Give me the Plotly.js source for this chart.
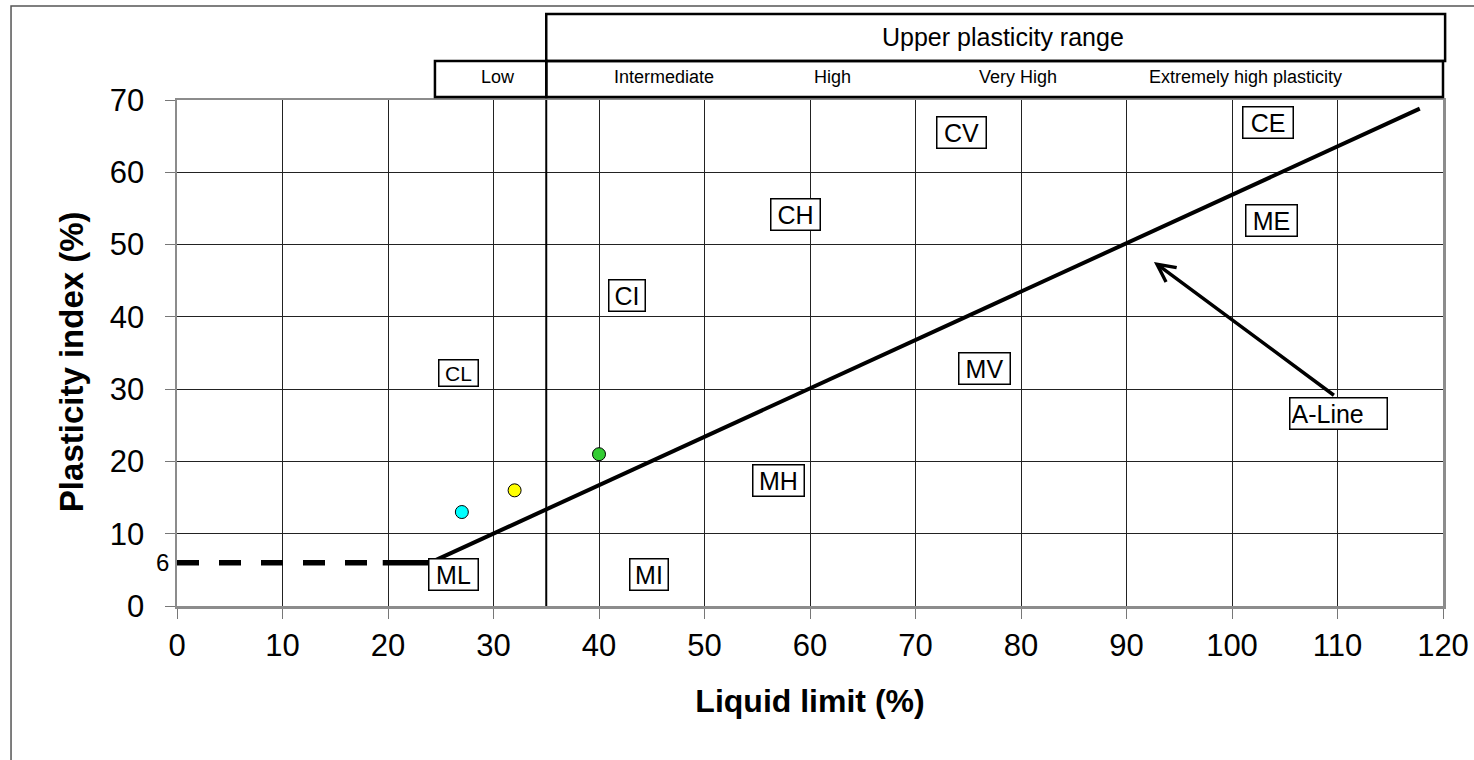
<!DOCTYPE html>
<html><head><meta charset="utf-8">
<script src="https://cdn.plot.ly/plotly-3.0.1.min.js"></script>
<style>html,body{margin:0;padding:0;background:#fff}#chart{width:1474px;height:760px}</style>
</head><body><div id="chart"></div>
<script>
// ---- data ----
const xTicks = [0,10,20,30,40,50,60,70,80,90,100,110,120];
const yTicks = [0,10,20,30,40,50,60,70];
const dashX = [0, 19.5];
const dashY = [6, 6];
const stubX = [19.5, 24];
const stubY = [6, 6];
const aLineX = [24, 117.8];
const aLineY = [6, 68.8];
const divideX = [35, 35];
const divideY = [0, 70];
const sampleLL = [27, 32, 40];
const samplePI = [13, 16, 21];
const sampleColors = ['#00FFFF', '#FFFF00', '#33CC33'];
const zoneText = ['CL','CI','CH','CV','CE','ML','MI','MH','MV','ME'];
const zoneX = [26.7, 42.7, 58.6, 74.4, 103.4, 26.2, 44.7, 57.0, 76.5, 103.7];
const zoneY = [32.3, 42.9, 54.1, 65.5, 66.9, 4.3, 4.3, 17.3, 32.8, 53.3];
const zoneW = [36, 33, 46, 46, 47, 46, 35, 48, 48, 48];
const zoneSize = [21, 25, 25, 25, 25, 25, 25, 25, 25, 25];
const rangeNames = ['Low','Intermediate','High','Very High','Extremely high plasticity'];
const rangeCenters = [30.4, 46.2, 62.1, 79.7, 101.3];
const upperTitle = 'Upper plasticity range';
const upperCenter = 78.3;
const lowBox = [24.45, 35];
const upperBox = [35, 120.2];
const midBox = [35, 120];
const aLineLabel = 'A-Line';
const aLineLabelPos = [110.1, 26.6];
const arrowTail = [109.8, 29.0];
const arrowHead = [92.6, 47.6];
const xTitle = 'Liquid limit (%)';
const yTitle = 'Plasticity index (%)';

// ---- helpers ----
const XMAX = 120;
const px = v => v / XMAX;   // LL value -> paper x

const traces = [
  {x: dashX, y: dashY, mode: 'lines', line: {color: '#000', width: 5.5, dash: '22px,20px'}, hoverinfo: 'skip'},
  {x: stubX, y: stubY, mode: 'lines', line: {color: '#000', width: 5.5}, hoverinfo: 'skip'},
  {x: aLineX, y: aLineY, mode: 'lines', line: {color: '#000', width: 4}, hoverinfo: 'skip'},
  {x: divideX, y: divideY, mode: 'lines', line: {color: '#000', width: 2}, hoverinfo: 'skip'},
  {x: sampleLL, y: samplePI, mode: 'markers',
   marker: {size: 13, color: sampleColors, line: {color: '#000', width: 1}}}
];

const annotations = [];
zoneText.forEach((t, i) => {
  annotations.push({x: zoneX[i], y: zoneY[i], xref: 'x', yref: 'y', text: t, showarrow: false,
    font: {size: zoneSize[i], color: '#000'}, bgcolor: '#fff', bordercolor: '#000', borderwidth: 1.5,
    borderpad: 1, width: zoneW[i]});
});
annotations.push({x: aLineLabelPos[0], y: aLineLabelPos[1], xref: 'x', yref: 'y', text: aLineLabel,
  showarrow: false, font: {size: 25, color: '#000'}, bgcolor: '#fff', bordercolor: '#000',
  borderwidth: 1.5, borderpad: 1, width: 94, align: 'left'});
annotations.push({x: arrowHead[0], y: arrowHead[1], ax: arrowTail[0], ay: arrowTail[1],
  xref: 'x', yref: 'y', axref: 'x', ayref: 'y', text: '', showarrow: true,
  arrowhead: 5, arrowsize: 1, arrowwidth: 3.5, arrowcolor: '#000', standoff: 0, startstandoff: 0});
rangeNames.forEach((t, i) => {
  annotations.push({x: rangeCenters[i], y: 1.046, xref: 'x', yref: 'paper', text: t, showarrow: false,
    font: {size: 18, color: '#000'}, xanchor: 'center', yanchor: 'middle'});
});
annotations.push({x: upperCenter, y: 1.1245, xref: 'x', yref: 'paper', text: upperTitle, showarrow: false,
  font: {size: 25, color: '#000'}, xanchor: 'center', yanchor: 'middle'});
annotations.push({x: 0, y: 6, xref: 'x', yref: 'y', text: '6', showarrow: false, xanchor: 'right',
  yanchor: 'middle', xshift: -6, font: {size: 24, color: '#000'}});
// y axis title (positioned as in the reference, slightly below axis centre)
annotations.push({x: -0.0837, y: 0.482, xref: 'paper', yref: 'paper', text: yTitle, showarrow: false,
  textangle: -90, xanchor: 'center', yanchor: 'middle', font: {size: 33, weight: 700, color: '#000'}});

const shapes = [
  // outer chart frame
  {type: 'rect', xref: 'paper', yref: 'paper', x0: -0.1311, x1: 1.04, y0: -0.35, y1: 1.1858,
   line: {color: '#555', width: 1.5}, fillcolor: 'rgba(0,0,0,0)', layer: 'below'},
  // upper plasticity range box
  {type: 'rect', xref: 'paper', yref: 'paper', x0: px(upperBox[0]), x1: px(upperBox[1]), y0: 1.0771, y1: 1.170,
   line: {color: '#000', width: 2.5}},
  // low box
  {type: 'rect', xref: 'paper', yref: 'paper', x0: px(lowBox[0]), x1: px(lowBox[1]), y0: 1.0059, y1: 1.0771,
   line: {color: '#000', width: 2.5}},
  // intermediate..extreme box
  {type: 'rect', xref: 'paper', yref: 'paper', x0: px(midBox[0]), x1: px(midBox[1]), y0: 1.0059, y1: 1.0771,
   line: {color: '#000', width: 2.5}}
];

const layout = {
  width: 1474, height: 760,
  margin: {l: 177, r: 31, t: 100, b: 154},
  paper_bgcolor: '#fff', plot_bgcolor: '#fff',
  showlegend: false,
  font: {family: '"Liberation Sans", Arial, sans-serif', color: '#000'},
  xaxis: {range: [0, 120], tickvals: xTicks, showgrid: true, gridcolor: '#222', gridwidth: 1,
    zeroline: false, showline: true, linecolor: '#8c8c8c', linewidth: 2.5, mirror: true,
    ticks: 'outside', ticklen: 10, tickcolor: '#777', tickwidth: 1, tickfont: {size: 31},
    ticklabelstandoff: 0, fixedrange: true,
    title: {text: xTitle, font: {size: 32, weight: 700}, standoff: 28}},
  yaxis: {range: [0, 70], tickvals: yTicks, showgrid: true, gridcolor: '#222', gridwidth: 1,
    zeroline: false, showline: true, linecolor: '#8c8c8c', linewidth: 2.5, mirror: true,
    ticks: 'outside', ticklen: 10, tickcolor: '#777', tickwidth: 1, tickfont: {size: 31},
    ticklabelstandoff: 14, fixedrange: true},
  annotations: annotations,
  shapes: shapes
};

Plotly.newPlot('chart', traces, layout, {displayModeBar: false, staticPlot: true});
</script>
</body></html>
